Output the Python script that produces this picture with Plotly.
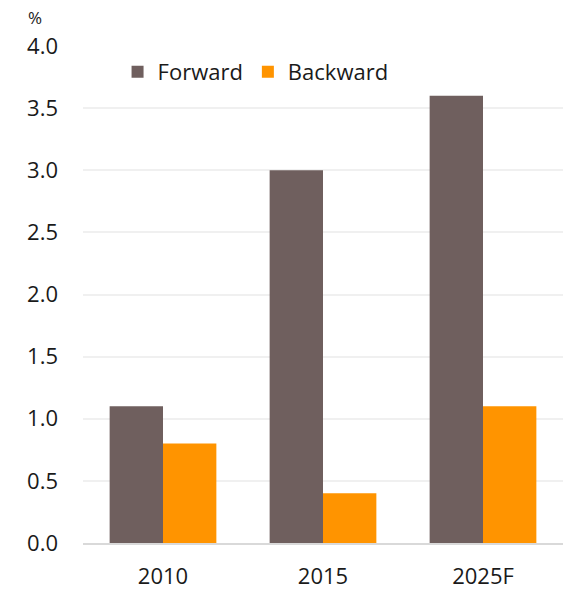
import plotly.graph_objects as go

categories = ["2010", "2015", "2025F"]
forward = [1.1, 3.0, 3.6]
backward = [0.8, 0.4, 1.1]
y_ticks = [0, 0.5, 1.0, 1.5, 2.0, 2.5, 3.0, 3.5, 4.0]
y_tick_labels = ["0.0", "0.5", "1.0", "1.5", "2.0", "2.5", "3.0", "3.5", "4.0"]

font_family = "Open Sans, sans-serif"
text_color = "#1a1a1a"

fig = go.Figure()
fig.add_trace(go.Bar(x=categories, y=forward, name="Forward",
                     marker=dict(color="#6f5f5e", line=dict(width=0))))
fig.add_trace(go.Bar(x=categories, y=backward, name="Backward",
                     marker=dict(color="#ff9400", line=dict(width=0))))

fig.update_layout(
    width=563, height=589,
    margin=dict(l=83, r=0, t=46, b=46),
    paper_bgcolor="white", plot_bgcolor="white",
    barmode="group", bargap=0.333, bargroupgap=0,
    font=dict(family=font_family, size=22, color=text_color),
    showlegend=True,
    legend=dict(orientation="h", x=0.072, y=0.99, xanchor="left", yanchor="top",
                font=dict(size=22, color=text_color), bgcolor="rgba(0,0,0,0)",
                itemwidth=30, traceorder="normal"),
    xaxis=dict(showgrid=False, showline=True, linecolor="#d9d9d9", linewidth=2,
               ticks="", ticklabelstandoff=13, tickfont=dict(size=22),
               automargin=False),
    yaxis=dict(range=[0, 4.0], tickvals=y_ticks, ticktext=y_tick_labels,
               showgrid=True, gridcolor="#f0f0f0", gridwidth=2,
               zeroline=False, showline=False, ticks="",
               ticklabelstandoff=24, tickfont=dict(size=22), automargin=False),
    annotations=[dict(text="%", xref="paper", yref="paper", x=-0.1, y=1.03,
                      xanchor="center", yanchor="bottom", showarrow=False,
                      font=dict(size=17, family=font_family, color=text_color))],
)

fig.write_html("out.html")
